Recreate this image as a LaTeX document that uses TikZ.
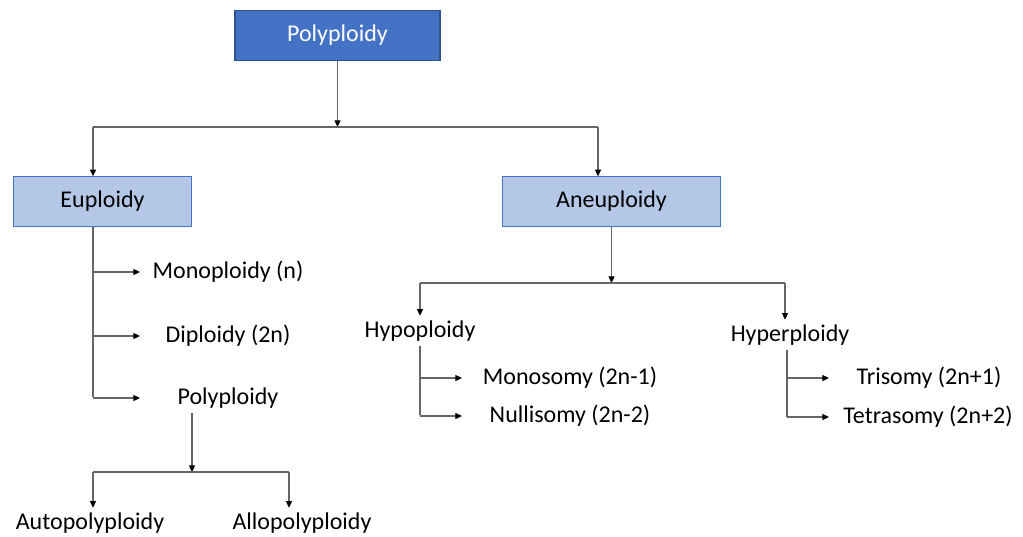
\documentclass[tikz,border=0pt]{standalone}
\usepackage{fontspec}
\setmainfont{Carlito}
\usetikzlibrary{arrows.meta, positioning}
\definecolor{darkblue}{HTML}{4472C4}
\definecolor{edgeblue}{HTML}{2F528F}
\definecolor{lightblue}{HTML}{B4C7E7}
\tikzstyle{every node}=[font=\fontsize{18}{21}\selectfont]
\tikzstyle{topbox}=[draw=edgeblue, fill=darkblue, text=white, minimum width=153.75pt, minimum height=38pt]
\tikzstyle{subbox}=[draw=darkblue, fill=lightblue, minimum height=37pt]

\begin{document}
\begin{tikzpicture}[x=0.75pt, y=-0.75pt, line width=0.8pt, draw=black!60,
  >={Triangle[length=5pt, width=4.5pt, color=black]}]
  \useasboundingbox (0,0) rectangle (1023,536);
  \node[topbox] (poly) at (337.5,35.5) {Polyploidy};
  \node[subbox, minimum width=134pt] (eu) at (102.5,201.5) {Euploidy};
  \node[subbox, minimum width=163pt] (an) at (611.5,201.5) {Aneuploidy};
  \node (mono) at (228,272) {Monoploidy (n)};
  \node (dip) at (228,336) {Diploidy (2n)};
  \node (epoly) at (228,398) {Polyploidy};
  \node (auto) at (90,523) {Autopolyploidy};
  \node (allo) at (302,523) {Allopolyploidy};
  \node (hypo) at (420,331) {Hypoploidy};
  \node (hyper) at (790,335) {Hyperploidy};
  \node (mons) at (570,378) {Monosomy (2n-1)};
  \node (null) at (570,416) {Nullisomy (2n-2)};
  \node (tri) at (929,378) {Trisomy (2n+1)};
  \node (tetra) at (928,417) {Tetrasomy (2n+2)};

  % top split
  \coordinate (top) at (337.5,127);
  \coordinate (eL) at (93,127);
  \coordinate (aL) at (598,127);
  \draw[->] (poly) -- (top);
  \draw (eL) -- (aL);
  \draw[->] (eL) -- (eL |- eu.north);
  \draw[->] (aL) -- (aL |- an.north);

  % euploidy
  \coordinate (eT) at (93,397);
  \draw (eu.south -| eT) -- (eT);
  \foreach \n in {mono,dip,epoly} \draw[->] (eT |- \n) -- ++(47,0);
  \coordinate (pJ) at (192,472);
  \coordinate (pL) at (93,472);
  \coordinate (pR) at (289,472);
  \draw[->] (epoly.south -| pJ) -- (pJ);
  \draw (pL) -- (pR);
  \draw[->] (pL) -- (pL |- auto.north);
  \draw[->] (pR) -- (pR |- allo.north);

  % aneuploidy
  \coordinate (aJ) at (611.5,283);
  \coordinate (hL) at (420,283);
  \coordinate (hR) at (785,283);
  \draw[->] (an) -- (aJ);
  \draw (hL) -- (hR);
  \draw[->] (hL) -- (hL |- hypo.north);
  \draw[->] (hR) -- (hR |- hyper.north);
  \coordinate (hT) at (420,415);
  \draw (hypo.south -| hT) -- (hT);
  \foreach \n in {mons,null} \draw[->] (hT |- \n) -- ++(42,0);
  \coordinate (rT) at (787,417);
  \draw (hyper.south -| rT) -- (rT);
  \foreach \n in {tri,tetra} \draw[->] (rT |- \n) -- ++(42,0);
\end{tikzpicture}
\end{document}
